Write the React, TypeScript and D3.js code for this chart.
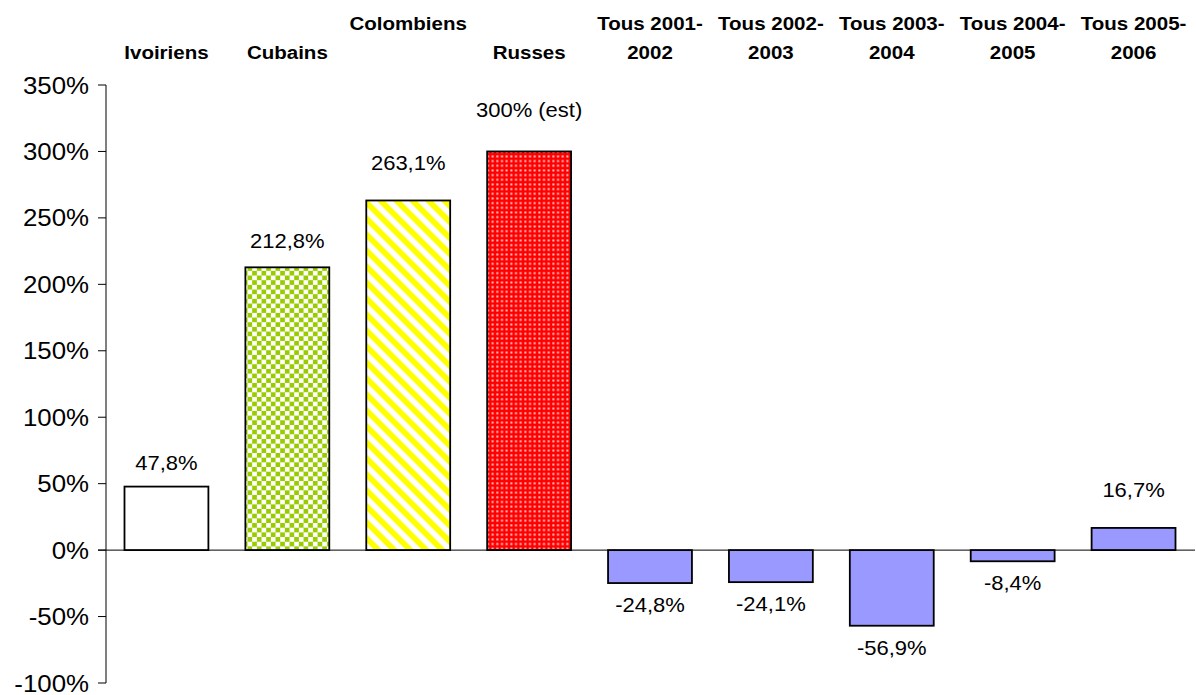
import React from "react";
import * as d3 from "d3";

const categories = ["Ivoiriens", "Cubains", "Colombiens", "Russes", "Tous 2001-2002", "Tous 2002-2003", "Tous 2003-2004", "Tous 2004-2005", "Tous 2005-2006"];
const categoryLines: string[][] = [["", "Ivoiriens"], ["", "Cubains"], ["Colombiens", ""], ["", "Russes"], ["Tous 2001-", "2002"], ["Tous 2002-", "2003"], ["Tous 2003-", "2004"], ["Tous 2004-", "2005"], ["Tous 2005-", "2006"]];
const values = [47.8, 212.8, 263.1, 300, -24.8, -24.1, -56.9, -8.4, 16.7];
const valueLabels = ["47,8%", "212,8%", "263,1%", "300% (est)", "-24,8%", "-24,1%", "-56,9%", "-8,4%", "16,7%"];
const yTicks = [-100, -50, 0, 50, 100, 150, 200, 250, 300, 350];

// layout / style (not data)
const fills = ["#ffffff", "url(#checker)", "url(#stripes)", "url(#dots)", "#9999ff", "#9999ff", "#9999ff", "#9999ff", "#9999ff"];
const labelGap = [17, 19, 30, 34, 29, 29, 29, 29, 31];

const W = 1196;
const H = 695;
const FONT = "Arial, 'Liberation Sans', Helvetica, sans-serif";
const SX = 1.1;

export default function App() {
  const x = d3.scaleBand<string>().domain(categories).range([106, 1194]).paddingInner(0.306).paddingOuter(0.153);
  const y = d3.scaleLinear().domain([-100, 350]).range([683, 85]);
  const y0 = y(0);

  return (
    <svg width={W} height={H} style={{ position: "absolute", left: 0, top: 0, display: "block", background: "#fff" }}>
      <defs>
        <pattern id="checker" patternUnits="userSpaceOnUse" width={9.34} height={9.34}>
          <rect width={9.34} height={9.34} fill="#ffffff" />
          <rect x={0} y={0} width={4.67} height={4.67} fill="#99cc00" />
          <rect x={4.67} y={4.67} width={4.67} height={4.67} fill="#99cc00" />
        </pattern>
        <pattern id="stripes" patternUnits="userSpaceOnUse" width={11.3} height={11.3} patternTransform="rotate(-45)">
          <rect width={11.3} height={11.3} fill="#ffffff" />
          <rect x={0} y={0} width={5.8} height={11.3} fill="#ffff00" />
        </pattern>
        <pattern id="dots" patternUnits="userSpaceOnUse" width={4.67} height={4.67}>
          <rect width={4.67} height={4.67} fill="#ff0000" />
          <rect x={1.3} y={1.3} width={2} height={2} fill="#ffc8c8" />
        </pattern>
      </defs>

      {categories.map((c, i) => {
        const v = values[i];
        const top = y(Math.max(0, v));
        const bottom = y(Math.min(0, v));
        return (
          <rect key={c} x={x(c)!} y={top} width={x.bandwidth()} height={bottom - top} fill={fills[i]} stroke="#000" strokeWidth={1.8} />
        );
      })}

      <line x1={98} x2={1195} y1={y0} y2={y0} stroke="#000" strokeWidth={1} />

      <line x1={106} x2={106} y1={y(350)} y2={y(-100)} stroke="#000" strokeWidth={1} />
      {yTicks.map((t) => (
        <g key={t}>
          <line x1={98} x2={106} y1={y(t)} y2={y(t)} stroke="#000" strokeWidth={1} />
          <text transform={`translate(89,${y(t) + 8.5}) scale(${SX},1)`} textAnchor="end" fontFamily={FONT} fontSize={23.5} fill="#000">
            {`${t}%`}
          </text>
        </g>
      ))}

      {categories.map((c, i) => {
        const v = values[i];
        const cx = x(c)! + x.bandwidth() / 2;
        const by = v >= 0 ? y(v) - labelGap[i] : y(v) + labelGap[i];
        return (
          <text key={c} transform={`translate(${cx},${by}) scale(${SX},1)`} textAnchor="middle" fontFamily={FONT} fontSize={20} fill="#000">
            {valueLabels[i]}
          </text>
        );
      })}

      {categories.map((c, i) => {
        const cx = x(c)! + x.bandwidth() / 2;
        return (
          <g key={c}>
            {categoryLines[i].map((ln, j) =>
              ln ? (
                <text key={j} transform={`translate(${cx},${j === 0 ? 30 : 59}) scale(1.08,1)`} textAnchor="middle" fontFamily={FONT} fontSize={19} fontWeight="bold" fill="#000">
                  {ln}
                </text>
              ) : null
            )}
          </g>
        );
      })}
    </svg>
  );
}
